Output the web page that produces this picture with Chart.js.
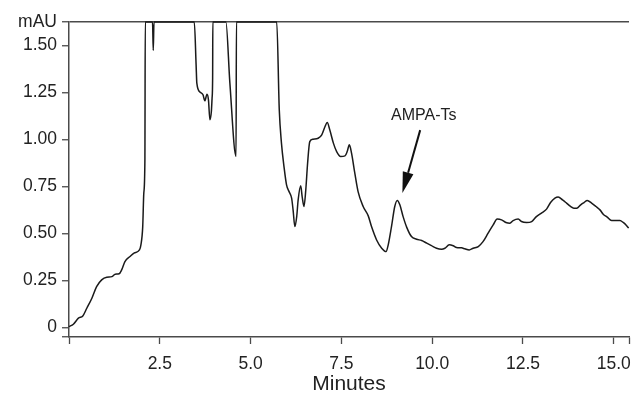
<!DOCTYPE html>
<html>
<head>
<meta charset="utf-8">
<script src="https://cdn.jsdelivr.net/npm/chart.js"></script>
<style>
  html, body { margin: 0; padding: 0; background: #fff; }
  canvas { display: block; }
</style>
</head>
<body>
<canvas id="c" width="634" height="399"></canvas>
<script>
// ---- data ----
const minutes = [
  0.00, 0.12, 0.26, 0.38, 0.49, 0.63, 0.76, 0.90, 1.04, 1.18, 1.27, 1.38, 1.45, 1.54, 1.68, 1.79, 1.94, 1.98,
  2.03, 2.06, 2.09, 2.10, 2.30, 2.32, 2.34, 3.45, 3.50, 3.52, 3.61, 3.69, 3.74, 3.80, 3.84, 3.88, 3.92, 3.94,
  3.955, 3.96, 4.32, 4.43, 4.60, 4.61, 5.72, 5.79, 5.85, 5.92, 5.99, 6.06, 6.13, 6.17, 6.22, 6.27, 6.31, 6.38,
  6.42, 6.47, 6.52, 6.57, 6.63, 6.72, 6.86, 6.96, 7.05, 7.11, 7.18, 7.28, 7.37, 7.48, 7.60, 7.66, 7.72, 7.78,
  7.87, 7.96, 8.10, 8.24, 8.33, 8.47, 8.61, 8.73, 8.79, 8.88, 8.97, 9.04, 9.11, 9.20, 9.30, 9.43, 9.57, 9.71,
  9.85, 9.98, 10.12, 10.26, 10.35, 10.47, 10.58, 10.67, 10.81, 10.90, 11.02, 11.13, 11.27, 11.40, 11.54, 11.68,
  11.79, 11.91, 12.03, 12.14, 12.23, 12.37, 12.46, 12.60, 12.74, 12.87, 13.01, 13.15, 13.26, 13.38, 13.47,
  13.59, 13.70, 13.81, 13.90, 13.98, 14.09, 14.18, 14.27, 14.39, 14.51, 14.62, 14.71, 14.82, 14.94, 15.06,
  15.17, 15.26, 15.35, 15.41
];
const absorbance = [
  0.005, 0.018, 0.050, 0.062, 0.103, 0.156, 0.218, 0.254, 0.268, 0.271, 0.284, 0.286, 0.307, 0.351, 0.378, 0.396, 0.413, 0.440,
  0.537, 0.716, 0.892, 1.625, 1.625, 1.473, 1.625, 1.625, 1.397, 1.300, 1.252, 1.238, 1.206, 1.241, 1.211, 1.105, 1.149, 1.220,
  1.327, 1.625, 1.625, 1.300, 0.910, 1.625, 1.625, 1.158, 0.981, 0.856, 0.759, 0.723, 0.688, 0.626, 0.537, 0.590, 0.679, 0.754,
  0.697, 0.644, 0.732, 0.874, 0.989, 1.002, 1.007, 1.025, 1.069, 1.090, 1.052, 0.981, 0.936, 0.910, 0.913, 0.936, 0.972, 0.928,
  0.821, 0.723, 0.644, 0.594, 0.537, 0.466, 0.422, 0.404, 0.440, 0.537, 0.644, 0.676, 0.653, 0.590, 0.533, 0.484, 0.470, 0.463,
  0.449, 0.436, 0.422, 0.417, 0.422, 0.440, 0.435, 0.426, 0.424, 0.419, 0.413, 0.422, 0.431, 0.457, 0.502, 0.546,
  0.577, 0.573, 0.559, 0.555, 0.569, 0.577, 0.564, 0.559, 0.564, 0.590, 0.609, 0.630, 0.665, 0.688, 0.694,
  0.679, 0.662, 0.644, 0.635, 0.635, 0.653, 0.665, 0.676, 0.662, 0.644, 0.626, 0.603, 0.587, 0.569, 0.569,
  0.569, 0.559, 0.543, 0.529
];
const yTickValues = [0, 0.25, 0.5, 0.75, 1.0, 1.25, 1.5];
const xTickValues = [2.5, 5.0, 7.5, 10.0, 12.5, 15.0];
const yUnitLabel = 'mAU';
const xAxisTitle = 'Minutes';
const peakLabel = 'AMPA-Ts';
const peakPoint = { x: 9.18, y: 0.716 };   // arrow tip (data coords)
const peakTail  = { x: 9.67, y: 1.05 };    // arrow tail (data coords)
const peakText  = { x: 9.77, y: 1.126 };   // label centre (data coords)

const Y_MIN = -0.05, Y_MAX = 1.625;
const X_MIN = 0, X_MAX = 15.42;

Chart.defaults.font.family = '"Liberation Sans", Arial, Helvetica, sans-serif';
Chart.defaults.color = '#222';

const frameColor = '#4a4a4a';
const tickFont = { size: 17.5 };

const arrowPlugin = {
  id: 'peakArrow',
  afterDatasetsDraw(chart) {
    const { ctx, scales: { x, y } } = chart;
    const tx = x.getPixelForValue(peakPoint.x), ty = y.getPixelForValue(peakPoint.y);
    const sx = x.getPixelForValue(peakTail.x), sy = y.getPixelForValue(peakTail.y);
    const ang = Math.atan2(ty - sy, tx - sx);
    const headLen = 21, headHalf = 5.5;
    const bx = tx - headLen * Math.cos(ang), by = ty - headLen * Math.sin(ang);
    ctx.save();
    ctx.strokeStyle = '#111';
    ctx.fillStyle = '#111';
    ctx.lineWidth = 2;
    ctx.beginPath();
    ctx.moveTo(sx, sy);
    ctx.lineTo(bx, by);
    ctx.stroke();
    ctx.beginPath();
    ctx.moveTo(tx, ty);
    ctx.lineTo(bx + headHalf * Math.sin(ang), by - headHalf * Math.cos(ang));
    ctx.lineTo(bx - headHalf * Math.sin(ang), by + headHalf * Math.cos(ang));
    ctx.closePath();
    ctx.fill();
    ctx.font = '16px "Liberation Sans", Arial, sans-serif';
    ctx.textAlign = 'center';
    ctx.textBaseline = 'middle';
    ctx.fillStyle = '#222';
    ctx.fillText(peakLabel, x.getPixelForValue(peakText.x), y.getPixelForValue(peakText.y));
    ctx.restore();
  }
};

new Chart(document.getElementById('c'), {
  type: 'line',
  data: {
    datasets: [{
      data: minutes.map((m, i) => ({ x: m, y: absorbance[i] })),
      borderColor: '#1a1a1a',
      borderWidth: 1.5,
      pointRadius: 0,
      cubicInterpolationMode: 'monotone',
      fill: false,
      clip: 3
    }]
  },
  options: {
    responsive: false,
    animation: false,
    events: [],
    layout: { padding: { top: 22, right: 5, bottom: 0, left: 0 } },
    plugins: { legend: { display: false }, tooltip: { enabled: false } },
    scales: {
      x: {
        type: 'linear',
        min: X_MIN, max: X_MAX,
        afterBuildTicks: s => { s.ticks = [X_MIN, ...xTickValues, X_MAX].map(v => ({ value: v })); },
        afterFit: s => { s.height = 62; s.paddingLeft = 0; s.paddingRight = 0; },
        grid: { drawOnChartArea: false, tickLength: 7, tickColor: frameColor, tickWidth: 1.3 },
        border: { color: frameColor, width: 1.5 },
        ticks: {
          autoSkip: false, maxRotation: 0, padding: 9.5, font: tickFont, color: '#222',
          callback: v => xTickValues.includes(v) ? v.toFixed(1) : ''
        },
        title: { display: true, text: xAxisTitle, font: { size: 21 }, color: '#222', padding: { top: 0, bottom: 2 } }
      },
      y: {
        min: Y_MIN, max: Y_MAX,
        afterBuildTicks: s => { s.ticks = [Y_MIN, ...yTickValues, Y_MAX].map(v => ({ value: v })); },
        afterFit: s => { s.width = 69; },
        grid: {
          drawOnChartArea: true, tickLength: 7, tickColor: frameColor, tickWidth: 1.3,
          color: c => (c.tick && c.tick.value === Y_MAX) ? frameColor : 'rgba(0,0,0,0)',
          lineWidth: 1.5
        },
        border: { color: frameColor, width: 1.5 },
        ticks: {
          autoSkip: false, padding: 5, font: tickFont, color: '#222',
          callback: v => v === Y_MAX ? yUnitLabel : (v === 0 ? '0' : (yTickValues.includes(v) ? v.toFixed(2) : ''))
        }
      }
    }
  },
  plugins: [arrowPlugin]
});
</script>
</body>
</html>
